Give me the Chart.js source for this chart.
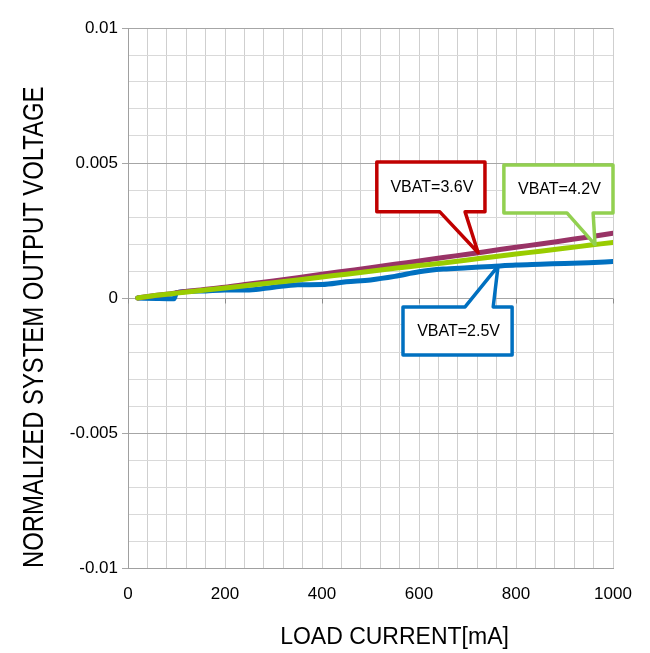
<!DOCTYPE html>
<html>
<head>
<meta charset="utf-8">
<script src="https://cdn.jsdelivr.net/npm/chart.js@4/dist/chart.umd.min.js"></script>
<style>
  html, body { margin: 0; padding: 0; background: #fff; }
  #wrap { width: 650px; height: 653px; position: relative; }
</style>
</head>
<body>
<div id="wrap"><canvas id="c" width="650" height="653"></canvas></div>
<script>
// ---- data ----
const loadCurrent = [20, 60, 95, 100, 150, 200, 250, 300, 350, 400, 450, 500, 550, 600, 650, 700, 750, 800, 850, 900, 950, 1000];
const vbat25 = [0, -0.00002, -0.00003, 0.0002, 0.00026, 0.0003, 0.0003, 0.0004, 0.00049, 0.0005, 0.0006, 0.00067, 0.0008, 0.00097, 0.00107, 0.00112, 0.00117, 0.00122, 0.00125, 0.00128, 0.00131, 0.00135];
const vbat36 = [0, 0.0001, 0.00018, 0.0002, 0.0003, 0.0004, 0.00052, 0.00063, 0.00075, 0.00088, 0.001, 0.00112, 0.00125, 0.00137, 0.0015, 0.00162, 0.00175, 0.00188, 0.002, 0.00213, 0.00226, 0.0024];
const vbat42 = [0, 0.0001, 0.00017, 0.00018, 0.00028, 0.00037, 0.00047, 0.00057, 0.00067, 0.00078, 0.00088, 0.00099, 0.0011, 0.0012, 0.0013, 0.00141, 0.00152, 0.00163, 0.00173, 0.00184, 0.00195, 0.00206];
const seriesNames = ['VBAT=2.5V', 'VBAT=3.6V', 'VBAT=4.2V'];
const xTickLabels = [0, 200, 400, 600, 800, 1000];
const yTickLabels = [-0.01, -0.005, 0, 0.005, 0.01];
const xTitle = 'LOAD CURRENT[mA]';
const yTitle = 'NORMALIZED SYSTEM OUTPUT VOLTAGE';

// ---- callouts (data-space anchors) ----
const callouts = [
  { text: 'VBAT=3.6V', color: '#C00000', series: 1, box: [513, 736, 0.00504, 0.00319], base: [643, 695], tipX: 722, side: 'bottom' },
  { text: 'VBAT=4.2V', color: '#92D050', series: 2, box: [775, 1000, 0.00493, 0.00315], base: [905, 959], tipX: 963, side: 'bottom' },
  { text: 'VBAT=2.5V', color: '#0070C0', series: 0, box: [567, 792, -0.00033, -0.00211], base: [695, 753], tipX: 763, side: 'top' }
];
const seriesValues = [vbat25, vbat36, vbat42];

function interp(xs, ys, x) {
  for (let i = 0; i < xs.length - 1; i++) {
    if (x >= xs[i] && x <= xs[i + 1]) {
      const t = (x - xs[i]) / (xs[i + 1] - xs[i]);
      return ys[i] + t * (ys[i + 1] - ys[i]);
    }
  }
  return ys[ys.length - 1];
}

const FONT = '"Liberation Sans", Arial, sans-serif';

const calloutPlugin = {
  id: 'callouts',
  afterDatasetsDraw(chart) {
    const ctx = chart.ctx;
    const xs = chart.scales.x, ys = chart.scales.y;
    // small major tick marks under the zero line
    ctx.save();
    ctx.strokeStyle = '#8C8C8C';
    ctx.lineWidth = 1;
    const y0 = Math.round(ys.getPixelForValue(0)) + 0.5;
    xTickLabels.forEach(v => {
      const px = Math.round(xs.getPixelForValue(v)) + 0.5;
      ctx.beginPath(); ctx.moveTo(px, y0); ctx.lineTo(px, y0 + 5); ctx.stroke();
    });
    ctx.restore();

    callouts.forEach(c => {
      const L = xs.getPixelForValue(c.box[0]), R = xs.getPixelForValue(c.box[1]);
      const T = ys.getPixelForValue(c.box[2]), B = ys.getPixelForValue(c.box[3]);
      const b1 = xs.getPixelForValue(c.base[0]), b2 = xs.getPixelForValue(c.base[1]);
      const tx = xs.getPixelForValue(c.tipX);
      const ty = ys.getPixelForValue(interp(loadCurrent, seriesValues[c.series], c.tipX));
      ctx.save();
      ctx.beginPath();
      if (c.side === 'bottom') {
        ctx.moveTo(L, T); ctx.lineTo(R, T); ctx.lineTo(R, B);
        ctx.lineTo(b2, B); ctx.lineTo(tx, ty); ctx.lineTo(b1, B);
        ctx.lineTo(L, B); ctx.closePath();
      } else {
        ctx.moveTo(L, T); ctx.lineTo(b1, T); ctx.lineTo(tx, ty); ctx.lineTo(b2, T);
        ctx.lineTo(R, T); ctx.lineTo(R, B); ctx.lineTo(L, B); ctx.closePath();
      }
      ctx.fillStyle = '#FFFFFF';
      ctx.fill();
      ctx.lineWidth = 3.5;
      ctx.lineJoin = 'round';
      ctx.strokeStyle = c.color;
      ctx.stroke();
      ctx.fillStyle = '#000';
      ctx.font = '16px ' + FONT;
      ctx.textAlign = 'center';
      ctx.textBaseline = 'middle';
      ctx.fillText(c.text, (L + R) / 2 + 1, (T + B) / 2 + 1);
      ctx.restore();
    });
  },
  afterDraw(chart) {
    const ctx = chart.ctx;
    const area = chart.chartArea;
    // Y axis title: condensed, reading bottom to top, starting at the bottom of the plot
    ctx.save();
    ctx.fillStyle = '#000';
    ctx.font = '30px ' + FONT;
    ctx.textAlign = 'left';
    ctx.textBaseline = 'alphabetic';
    ctx.translate(42.5, area.bottom);
    ctx.rotate(-Math.PI / 2);
    ctx.scale(0.795, 1);
    ctx.fillText(yTitle, 0, 0);
    ctx.restore();
    // X axis title
    ctx.save();
    ctx.fillStyle = '#000';
    ctx.font = '23px ' + FONT;
    ctx.textAlign = 'center';
    ctx.textBaseline = 'alphabetic';
    ctx.fillText(xTitle, (area.left + area.right) / 2 + 24, chart.height - 9);
    ctx.restore();
  }
};

Chart.defaults.font.family = FONT;
Chart.defaults.color = '#000';

const toPts = ys => loadCurrent.map((x, i) => ({ x, y: ys[i] }));

new Chart(document.getElementById('c'), {
  type: 'line',
  data: {
    datasets: [
      { label: seriesNames[0], data: toPts(vbat25), borderColor: '#0070C0', borderWidth: 5, order: 2 },
      { label: seriesNames[1], data: toPts(vbat36), borderColor: '#993366', borderWidth: 5, order: 1 },
      { label: seriesNames[2], data: toPts(vbat42), borderColor: '#99CC00', borderWidth: 5, order: 0 }
    ]
  },
  options: {
    responsive: false,
    animation: false,
    events: [],
    layout: { padding: { left: 0, right: 37, top: 28, bottom: 0 } },
    elements: {
      point: { radius: 0 },
      line: { cubicInterpolationMode: 'monotone', borderCapStyle: 'round', borderJoinStyle: 'round', fill: false }
    },
    plugins: { legend: { display: false }, tooltip: { enabled: false } },
    scales: {
      x: {
        type: 'linear', min: 0, max: 1000,
        afterFit(s) { s.height = 85; },
        ticks: {
          stepSize: 40, autoSkip: false, maxRotation: 0, padding: 16,
          font: { size: 17 }, color: '#000',
          callback: v => (xTickLabels.includes(v) ? String(v) : '')
        },
        grid: { drawTicks: false, color: '#CFCFCF', lineWidth: 1 },
        border: { color: '#A0A0A0', width: 1 },
        title: { display: false, text: xTitle }
      },
      y: {
        type: 'linear', min: -0.01, max: 0.01,
        afterFit(s) { s.width = 128; },
        ticks: {
          stepSize: 0.001, autoSkip: false, padding: 4,
          font: { size: 17 }, color: '#000',
          callback: v => {
            const m = Math.round(v * 1000);
            return yTickLabels.some(t => Math.round(t * 1000) === m) ? String(m / 1000) : '';
          }
        },
        grid: {
          tickLength: 6,
          color: ctx => (Math.round(ctx.tick.value * 1000) % 5 === 0 ? '#A6A6A6' : '#D9D9D9'),
          tickColor: ctx => (Math.round(ctx.tick.value * 1000) % 5 === 0 ? '#A6A6A6' : 'rgba(0,0,0,0)'),
          lineWidth: 1
        },
        border: { color: '#A0A0A0', width: 1 },
        title: { display: false, text: yTitle }
      }
    }
  },
  plugins: [calloutPlugin]
});
</script>
</body>
</html>
